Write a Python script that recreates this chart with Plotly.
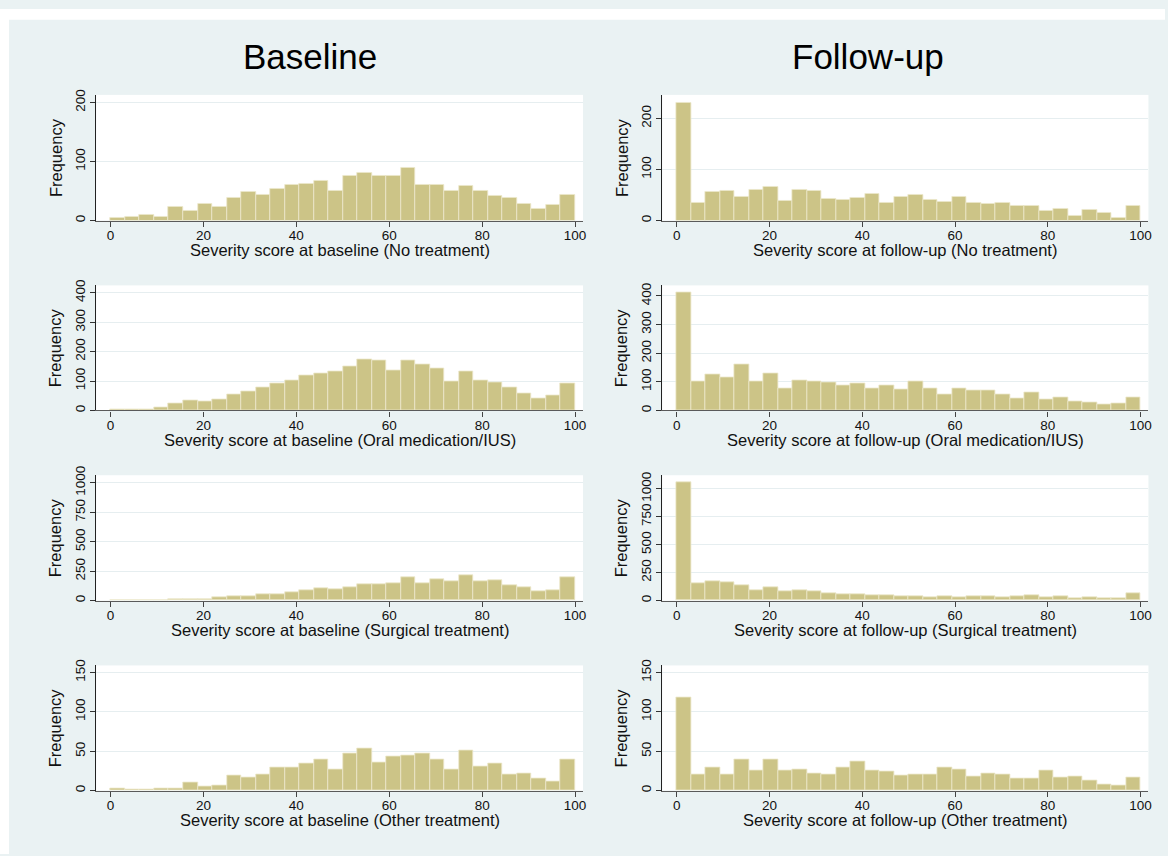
import plotly.graph_objects as go

# ---------------- data (counts per bin, 32 bins over 0-100) ----------------
bin_start = 0.0
bin_width = 100.0 / 32

baseline_none = [5, 6, 10, 7, 24, 16, 28, 23, 38, 48, 44, 53, 61, 63, 68, 50,
                 75, 80, 75, 76, 90, 60, 61, 51, 58, 50, 41, 38, 29, 19, 26, 43]
followup_none = [231, 35, 57, 59, 46, 61, 66, 39, 61, 59, 43, 41, 44, 52, 34, 47,
                 50, 41, 37, 46, 35, 32, 34, 29, 29, 19, 23, 10, 21, 15, 5, 28]
baseline_oral = [3, 2, 2, 11, 25, 34, 31, 39, 54, 64, 77, 93, 103, 120, 127, 132,
                 150, 174, 171, 137, 171, 156, 142, 98, 133, 103, 97, 79, 59, 42, 51, 92]
followup_oral = [413, 100, 126, 117, 162, 100, 130, 78, 106, 102, 99, 89, 94, 76, 89, 75,
                 100, 78, 55, 76, 69, 71, 57, 41, 62, 40, 44, 32, 28, 22, 26, 44]
baseline_surg = [2, 2, 5, 5, 8, 13, 11, 25, 36, 36, 56, 56, 70, 84, 106, 98,
                 112, 142, 137, 151, 196, 151, 179, 162, 218, 162, 173, 134, 112, 81, 87, 198]
followup_surg = [1056, 153, 174, 162, 138, 94, 118, 85, 91, 82, 65, 56, 59, 44, 47, 35,
                 35, 32, 38, 29, 38, 35, 32, 35, 47, 26, 38, 21, 29, 21, 24, 65]
baseline_other = [3, 1, 2, 3, 3, 10, 5, 6, 19, 17, 20, 29, 29, 34, 39, 27,
                  47, 54, 36, 43, 44, 47, 39, 27, 51, 31, 34, 21, 22, 15, 11, 39]
followup_other = [118, 20, 29, 20, 39, 25, 39, 25, 27, 22, 21, 29, 37, 26, 24, 19,
                  20, 20, 29, 27, 18, 22, 21, 15, 15, 25, 17, 18, 13, 8, 7, 16]

column_titles = ["Baseline", "Follow-up"]
x_titles = [
    ["Severity score at baseline (No treatment)", "Severity score at follow-up (No treatment)"],
    ["Severity score at baseline (Oral medication/IUS)", "Severity score at follow-up (Oral medication/IUS)"],
    ["Severity score at baseline (Surgical treatment)", "Severity score at follow-up (Surgical treatment)"],
    ["Severity score at baseline (Other treatment)", "Severity score at follow-up (Other treatment)"],
]
series = [
    [baseline_none, followup_none],
    [baseline_oral, followup_oral],
    [baseline_surg, followup_surg],
    [baseline_other, followup_other],
]
y_ranges = [[(0, 213), (0, 246)], [(0, 425), (0, 437)], [(0, 1064), (0, 1120)], [(0, 159), (0, 159)]]
y_dticks = [100, 100, 250, 50]
x_tickvals = [0, 20, 40, 60, 80, 100]

# ---------------- layout geometry (pixels) ----------------
W, H = 1168, 856
col_px = [(96.4, 584.5), (664.0, 1151.4)]
row_px = [(87.0, 214.3), (280.0, 406.7), (472.3, 599.3), (665.0, 791.7)]
freq_x_px = [55.5, 623.0]
title_x_px = [311.0, 870.6]

FONT = "Liberation Sans, Arial, Helvetica, sans-serif"
BAR = "#CCC487"
BAR_EDGE = "#ECE9CC"
BG = "#EAF2F3"
GRID = "#E6EEF0"


def fx(px):
    return px / W


def fy(px):
    return 1 - px / H


fig = go.Figure()
layout = dict(
    width=W, height=H,
    margin=dict(l=0, r=0, t=0, b=0),
    paper_bgcolor=BG, plot_bgcolor="white",
    showlegend=False,
    font=dict(family=FONT, color="#111111"),
    bargap=0,
)
annotations = []

idx = 0
for r in range(4):
    for c in range(2):
        idx += 1
        xa = "x" if idx == 1 else f"x{idx}"
        ya = "y" if idx == 1 else f"y{idx}"
        counts = series[r][c]
        centers = [bin_start + (i + 0.5) * bin_width for i in range(len(counts))]
        fig.add_trace(go.Bar(
            x=centers, y=counts, width=bin_width,
            marker=dict(color=BAR, line=dict(color=BAR_EDGE, width=0.8)),
            xaxis=xa, yaxis=ya, hoverinfo="x+y",
        ))
        x0, x1 = col_px[c]
        y0, y1 = row_px[r]
        layout[f"xaxis{'' if idx == 1 else idx}"] = dict(
            domain=[fx(x0), fx(x1)], anchor=ya, range=[-3.1, 101.7],
            tickvals=x_tickvals, ticks="outside", ticklen=5, tickwidth=1,
            tickcolor="#444444", showline=True, linecolor="#5a5a5a", linewidth=1.2,
            showgrid=False, zeroline=False, ticklabelstandoff=-3,
            tickfont=dict(size=13.5, family=FONT, color="#111111"),
        )
        layout[f"yaxis{'' if idx == 1 else idx}"] = dict(
            domain=[fy(y1), fy(y0)], anchor=xa, range=list(y_ranges[r][c]),
            dtick=y_dticks[r], tick0=0, ticks="outside", ticklen=5, tickwidth=1,
            tickcolor="#333333", showline=True, linecolor="#222222", linewidth=1.2,
            showgrid=True, gridcolor=GRID, gridwidth=1, zeroline=False,
            tickangle=-90, tickfont=dict(size=13.5, family=FONT, color="#111111"),
        )
        # x axis title
        annotations.append(dict(
            text=x_titles[r][c], xref="paper", yref="paper",
            x=fx((x0 + x1) / 2), y=fy(y1 + 30), xanchor="center", yanchor="middle",
            showarrow=False, font=dict(size=16.5, family=FONT, color="#111111"),
        ))
        # y axis title
        annotations.append(dict(
            text="Frequency", xref="paper", yref="paper",
            x=fx(freq_x_px[c]), y=fy((y0 + y1) / 2), xanchor="center", yanchor="middle",
            textangle=-90, showarrow=False,
            font=dict(size=16.5, family=FONT, color="#111111"),
        ))

for c in range(2):
    annotations.append(dict(
        text=column_titles[c], xref="paper", yref="paper",
        x=fx(title_x_px[c]), y=fy(48), xanchor="center", yanchor="middle",
        showarrow=False, font=dict(size=35, family=FONT, color="#000000"),
    ))

layout["annotations"] = annotations
layout["shapes"] = [
    dict(type="rect", xref="paper", yref="paper", x0=0, x1=1, y0=fy(11), y1=1,
         fillcolor="white", line=dict(width=0), layer="below"),
    dict(type="rect", xref="paper", yref="paper", x0=0, x1=fx(9), y0=0, y1=1,
         fillcolor="white", line=dict(width=0), layer="below"),
]
fig.update_layout(**layout)
fig.write_html(
    "out.html",
    post_script="document.body.style.margin='0px';document.body.style.overflow='hidden';",
)
